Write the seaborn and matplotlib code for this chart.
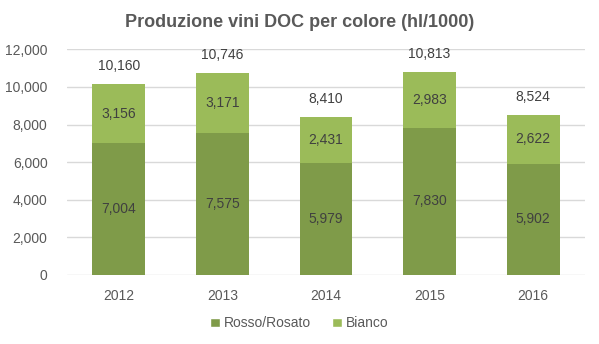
import matplotlib
matplotlib.use("Agg")
import matplotlib.pyplot as plt
import seaborn as sns
import pandas as pd
from matplotlib.patches import Patch
from matplotlib.ticker import FuncFormatter

years = ["2012", "2013", "2014", "2015", "2016"]
rosso_rosato = [7004, 7575, 5979, 7830, 5902]
bianco = [3156, 3171, 2431, 2983, 2622]
totals = [r + b for r, b in zip(rosso_rosato, bianco)]

dark_green = "#7F9B49"
light_green = "#9BBB59"
text_gray = "#595959"
label_dark = "#404040"

sns.set_theme(style="white")
plt.rcParams["font.family"] = ["Liberation Sans", "DejaVu Sans"]

df = pd.DataFrame({"anno": years, "rosso": rosso_rosato, "bianco": bianco, "totale": totals})

fig = plt.figure(figsize=(5.99, 3.44), dpi=100)
ax = fig.add_axes([67 / 599, (344 - 275) / 344, (585 - 67) / 599, (275 - 49.3) / 344])

# stacked bars: full height in light green, lower segment in dark green
sns.barplot(data=df, x="anno", y="totale", color=light_green, width=0.51,
            saturation=1, linewidth=0, edgecolor="none", ax=ax, zorder=2)
sns.barplot(data=df, x="anno", y="rosso", color=dark_green, width=0.51,
            saturation=1, linewidth=0, edgecolor="none", ax=ax, zorder=3)

ax.set_ylim(0, 12000)
ax.set_yticks(range(0, 12001, 2000))
ax.yaxis.set_major_formatter(FuncFormatter(lambda v, p: f"{int(v):,}"))
ax.grid(axis="y", color="#D9D9D9", linewidth=1, zorder=0)
ax.set_axisbelow(True)
for s in ax.spines.values():
    s.set_visible(False)
ax.set_xlabel("")
ax.set_ylabel("")
ax.tick_params(axis="both", length=0, labelsize=10, labelcolor=text_gray)
ax.tick_params(axis="x", pad=10)
ax.tick_params(axis="y", pad=14)

fmt = lambda v: f"{v:,}"
for i, (r, b, t) in enumerate(zip(rosso_rosato, bianco, totals)):
    ax.text(i, r / 2, fmt(r), ha="center", va="center", fontsize=10, color=label_dark, zorder=5)
    ax.text(i, r + b / 2, fmt(b), ha="center", va="center", fontsize=10, color=label_dark, zorder=5)
    ax.text(i, t + 950, fmt(t), ha="center", va="center", fontsize=10, color=label_dark, zorder=5)

fig.text(0.5, 0.935, "Produzione vini DOC per colore (hl/1000)", ha="center", va="center",
         fontsize=13, fontweight="bold", color=text_gray,
         family=["Liberation Sans Narrow", "Liberation Sans", "DejaVu Sans"])

handles = [Patch(facecolor=dark_green, label="Rosso/Rosato"),
           Patch(facecolor=light_green, label="Bianco")]
fig.legend(handles=handles, loc="center", bbox_to_anchor=(0.5, 0.06), ncol=2,
           frameon=False, fontsize=10, handlelength=0.7, handleheight=0.7,
           handletextpad=0.3, columnspacing=1.5, labelcolor=text_gray)

fig.savefig("out.png", dpi=100)
